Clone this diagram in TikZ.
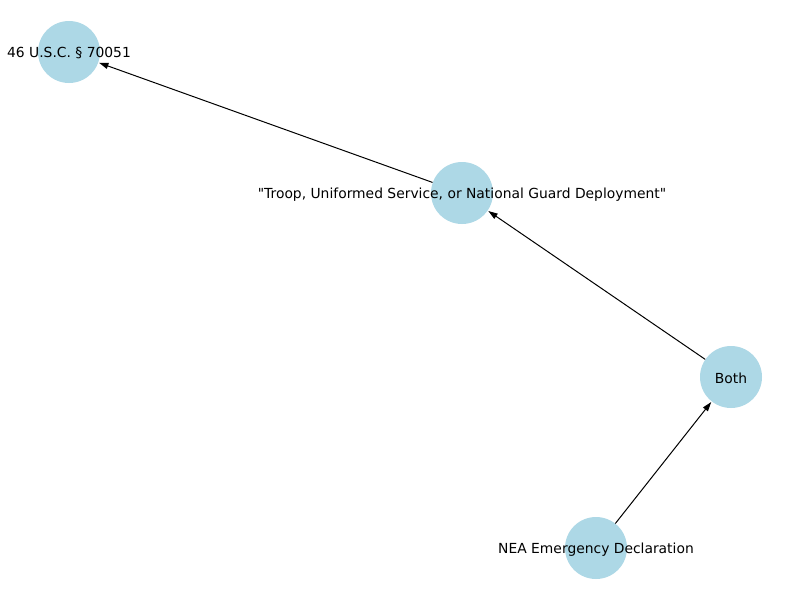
\documentclass[tikz,border=0pt]{standalone}
\usepackage{fontspec}
\setmainfont{DejaVu Sans}
\usetikzlibrary{arrows.meta}
\definecolor{nodeblue}{HTML}{ADD8E6}
\begin{document}
\begin{tikzpicture}[x=0.75pt,y=-0.75pt,
  dot/.style={circle,fill=nodeblue,draw=none,minimum size=46.5pt,inner sep=0pt},
  lbl/.style={inner sep=0pt,yshift=-1.1pt,font=\fontsize{10.4pt}{12pt}\selectfont},
  edge/.style={line width=0.75pt,-{Stealth[length=7pt,width=4.5pt,inset=0pt]},shorten >=0.5pt}]
\useasboundingbox[fill=white] (0,0) rectangle (800,600);
\node[dot] (usc) at (69,52) {};
\node[dot] (troop) at (462,193) {};
\node[dot] (both) at (731,377) {};
\node[dot] (nea) at (596,548) {};
\draw[edge] (troop) -- (usc);
\draw[edge] (both) -- (troop);
\draw[edge] (nea) -- (both);
\node[lbl] (uscl) at (69,52) {46 U.S.C. § 70051};
\node[lbl] (troopl) at (462,193) {\textquotedbl Troop, Uniformed Service, or National Guard Deployment\textquotedbl};
\node[lbl] (bothl) at (731,377) {Both};
\node[lbl] (neal) at (596,548) {NEA Emergency Declaration};
\end{tikzpicture}
\end{document}
